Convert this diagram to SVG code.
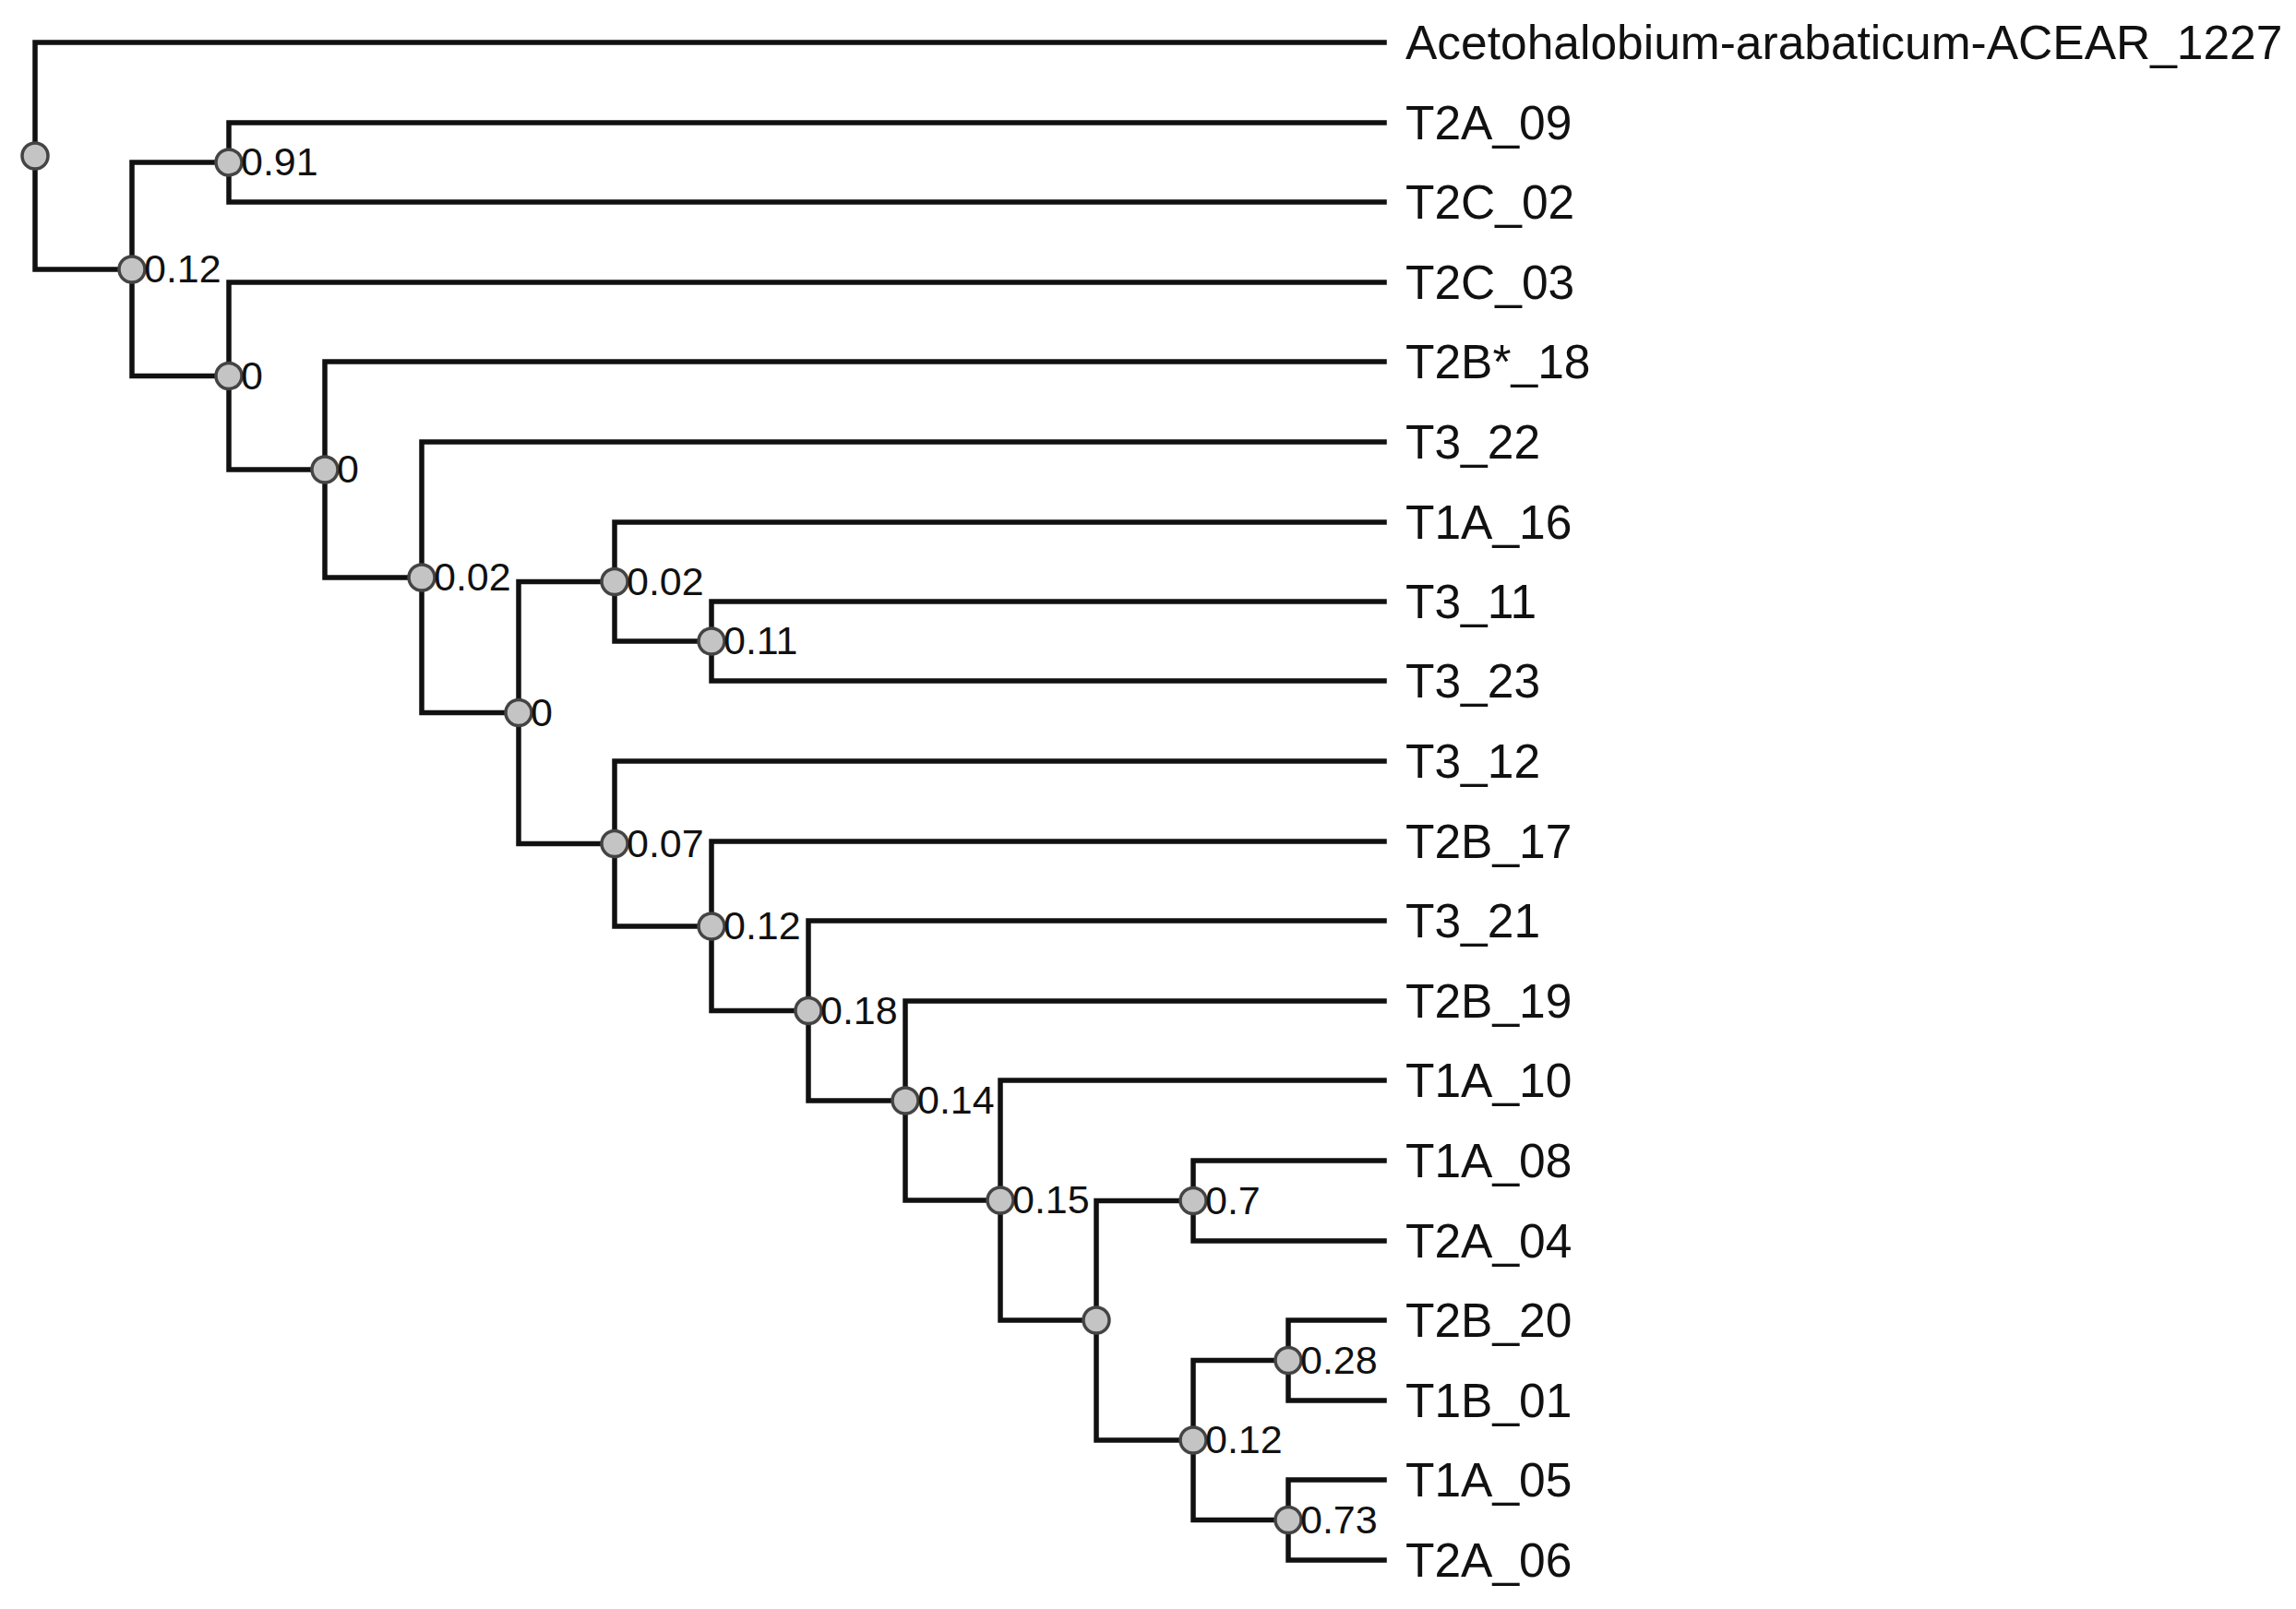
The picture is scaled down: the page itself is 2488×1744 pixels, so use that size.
<svg xmlns="http://www.w3.org/2000/svg" width="2488" height="1744" viewBox="0 0 2488 1744">
<style>
.br{fill:none;stroke:#111;stroke-width:5.5;stroke-linejoin:miter;stroke-linecap:square}
.nd{fill:#c4c4c4;stroke:#444;stroke-width:3.5}
.nl{font-family:"Liberation Sans",Arial,sans-serif;font-size:43px;fill:#111}
.lf{font-family:"Liberation Sans",Arial,sans-serif;font-size:51.5px;fill:#111}
</style>
<rect width="2488" height="1744" fill="#fff"/>
<g id="connectors">
<path class="br" d="M1500,46 H38 V292 H143"/>
<path class="br" d="M248,176 H143 V407.5 H248"/>
<path class="br" d="M1500,133 H248 V219 H1500"/>
<path class="br" d="M1500,306 H248 V509 H352"/>
<path class="br" d="M1500,392 H352 V626 H457"/>
<path class="br" d="M1500,479 H457 V772.5 H562"/>
<path class="br" d="M666,630.5 H562 V914.5 H666"/>
<path class="br" d="M1500,566 H666 V695 H771"/>
<path class="br" d="M1500,652 H771 V738 H1500"/>
<path class="br" d="M1500,825 H666 V1004 H771"/>
<path class="br" d="M1500,912 H771 V1095.5 H876"/>
<path class="br" d="M1500,998 H876 V1193 H981"/>
<path class="br" d="M1500,1085 H981 V1301 H1084"/>
<path class="br" d="M1500,1171 H1084 V1431 H1188"/>
<path class="br" d="M1293,1301.5 H1188 V1561 H1293"/>
<path class="br" d="M1500,1258 H1293 V1345 H1500"/>
<path class="br" d="M1396,1474.5 H1293 V1647.5 H1396"/>
<path class="br" d="M1500,1431 H1396 V1518 H1500"/>
<path class="br" d="M1500,1604 H1396 V1691 H1500"/>
</g>
<g id="n0"><circle class="nd" cx="38" cy="169" r="14"/></g>
<g id="n1"><circle class="nd" cx="143" cy="292" r="14"/><text class="nl" x="156" y="306">0.12</text></g>
<g id="n2"><circle class="nd" cx="248" cy="176" r="14"/><text class="nl" x="261" y="190">0.91</text></g>
<g id="n3"><circle class="nd" cx="248" cy="407.5" r="14"/><text class="nl" x="261" y="422">0</text></g>
<g id="n4"><circle class="nd" cx="352" cy="509" r="14"/><text class="nl" x="365" y="523">0</text></g>
<g id="n5"><circle class="nd" cx="457" cy="626" r="14"/><text class="nl" x="470" y="640">0.02</text></g>
<g id="n6"><circle class="nd" cx="562" cy="772.5" r="14"/><text class="nl" x="575" y="787">0</text></g>
<g id="n7"><circle class="nd" cx="666" cy="630.5" r="14"/><text class="nl" x="679" y="645">0.02</text></g>
<g id="n8"><circle class="nd" cx="771" cy="695" r="14"/><text class="nl" x="784" y="709">0.11</text></g>
<g id="n9"><circle class="nd" cx="666" cy="914.5" r="14"/><text class="nl" x="679" y="929">0.07</text></g>
<g id="n10"><circle class="nd" cx="771" cy="1004" r="14"/><text class="nl" x="784" y="1018">0.12</text></g>
<g id="n11"><circle class="nd" cx="876" cy="1095.5" r="14"/><text class="nl" x="889" y="1110">0.18</text></g>
<g id="n12"><circle class="nd" cx="981" cy="1193" r="14"/><text class="nl" x="994" y="1207">0.14</text></g>
<g id="n13"><circle class="nd" cx="1084" cy="1301" r="14"/><text class="nl" x="1097" y="1315">0.15</text></g>
<g id="n14"><circle class="nd" cx="1188" cy="1431" r="14"/></g>
<g id="n15"><circle class="nd" cx="1293" cy="1301.5" r="14"/><text class="nl" x="1306" y="1316">0.7</text></g>
<g id="n16"><circle class="nd" cx="1293" cy="1561" r="14"/><text class="nl" x="1306" y="1575">0.12</text></g>
<g id="n17"><circle class="nd" cx="1396" cy="1474.5" r="14"/><text class="nl" x="1409" y="1489">0.28</text></g>
<g id="n18"><circle class="nd" cx="1396" cy="1647.5" r="14"/><text class="nl" x="1409" y="1662">0.73</text></g>
<g id="leaf1"><text class="lf" x="1523" y="64">Acetohalobium-arabaticum-ACEAR_1227</text></g>
<g id="leaf2"><text class="lf" x="1523" y="151">T2A_09</text></g>
<g id="leaf3"><text class="lf" x="1523" y="237">T2C_02</text></g>
<g id="leaf4"><text class="lf" x="1523" y="324">T2C_03</text></g>
<g id="leaf5"><text class="lf" x="1523" y="410">T2B*_18</text></g>
<g id="leaf6"><text class="lf" x="1523" y="497">T3_22</text></g>
<g id="leaf7"><text class="lf" x="1523" y="584">T1A_16</text></g>
<g id="leaf8"><text class="lf" x="1523" y="670">T3_11</text></g>
<g id="leaf9"><text class="lf" x="1523" y="756">T3_23</text></g>
<g id="leaf10"><text class="lf" x="1523" y="843">T3_12</text></g>
<g id="leaf11"><text class="lf" x="1523" y="930">T2B_17</text></g>
<g id="leaf12"><text class="lf" x="1523" y="1016">T3_21</text></g>
<g id="leaf13"><text class="lf" x="1523" y="1103">T2B_19</text></g>
<g id="leaf14"><text class="lf" x="1523" y="1189">T1A_10</text></g>
<g id="leaf15"><text class="lf" x="1523" y="1276">T1A_08</text></g>
<g id="leaf16"><text class="lf" x="1523" y="1363">T2A_04</text></g>
<g id="leaf17"><text class="lf" x="1523" y="1449">T2B_20</text></g>
<g id="leaf18"><text class="lf" x="1523" y="1536">T1B_01</text></g>
<g id="leaf19"><text class="lf" x="1523" y="1622">T1A_05</text></g>
<g id="leaf20"><text class="lf" x="1523" y="1709">T2A_06</text></g>
</svg>
